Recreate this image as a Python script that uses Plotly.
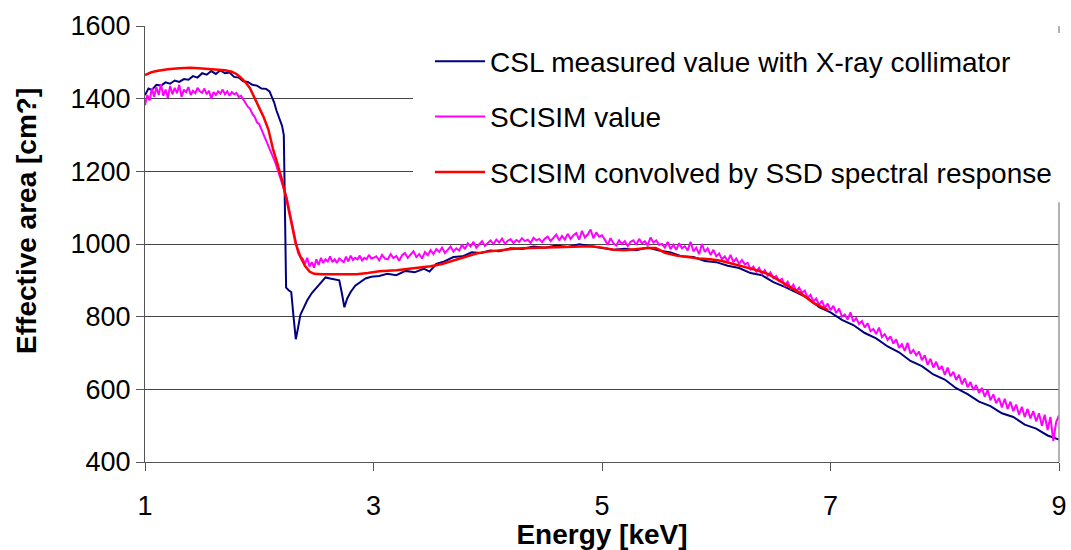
import numpy as np
import plotly.graph_objects as go

# ---------------- data ----------------
csl_energy = [1.00, 1.03, 1.06, 1.10, 1.14, 1.18, 1.22, 1.26, 1.30, 1.34, 1.38, 1.42, 1.46, 1.50,
              1.54, 1.58, 1.62, 1.66, 1.70, 1.74, 1.78, 1.82, 1.86, 1.90, 1.94, 1.98, 2.02, 2.06,
              2.09, 2.11, 2.13, 2.15, 2.18, 2.20, 2.215, 2.225, 2.235, 2.26, 2.28, 2.30, 2.32, 2.34,
              2.36, 2.39, 2.42, 2.46, 2.50, 2.54, 2.58, 2.62, 2.66, 2.70, 2.72, 2.745, 2.77, 2.80,
              2.84, 2.88, 2.93, 2.98, 3.05, 3.12, 3.20, 3.28, 3.36, 3.44, 3.49, 3.55, 3.62, 3.70,
              3.78, 3.86, 3.94, 4.02, 4.10, 4.20, 4.30, 4.40, 4.50, 4.60, 4.70, 4.80, 4.90, 5.00,
              5.10, 5.20, 5.30, 5.40, 5.50, 5.60, 5.70, 5.80, 5.90, 6.00, 6.10, 6.20, 6.30, 6.40,
              6.50, 6.60, 6.70, 6.80, 6.90, 7.00, 7.10, 7.20, 7.30, 7.40, 7.50, 7.60, 7.70, 7.80,
              7.90, 8.00, 8.10, 8.20, 8.30, 8.40, 8.50, 8.60, 8.70, 8.80, 8.90, 9.00]
csl_area = [1410, 1428, 1424, 1438, 1436, 1445, 1441, 1450, 1446, 1454, 1452, 1462, 1458, 1470,
            1466, 1476, 1468, 1478, 1470, 1472, 1460, 1458, 1448, 1446, 1438, 1436, 1428, 1427,
            1420, 1405, 1390, 1368, 1342, 1325, 1300, 1100, 880, 872, 868, 800, 738, 770,
            805, 825, 845, 865, 880, 895, 908, 905, 902, 900, 870, 826, 850, 868,
            885, 893, 905, 910, 912, 918, 914, 926, 922, 932, 924, 945, 952, 964,
            966, 977, 975, 982, 980, 988, 986, 993, 990, 996, 992, 999, 994, 991,
            984, 987, 983, 990, 982, 977, 966, 964, 953, 950, 940, 934, 920, 914,
            895, 882, 866, 852, 826, 812, 791, 777, 755, 740, 718, 702, 678, 664,
            641, 627, 603, 587, 566, 554, 534, 524, 503, 492, 473, 462]

# SCISIM value, 1.00-3.00 keV in 0.02 keV bins
sim_area_low = [1382, 1410, 1395, 1428, 1405, 1432, 1410, 1440, 1408, 1425,
                1402, 1435, 1412, 1430, 1415, 1438, 1405, 1425, 1418, 1432,
                1410, 1422, 1415, 1430, 1420, 1416, 1428, 1412, 1422, 1400,
                1418, 1410, 1420, 1414, 1425, 1412, 1420, 1408, 1418, 1412,
                1416, 1405, 1408, 1396, 1388, 1378, 1372, 1358, 1350, 1335,
                1330, 1315, 1300, 1288, 1270, 1258, 1240, 1225, 1205, 1186,
                1165, 1150, 1128, 1098, 1066, 1035, 1002, 975, 965, 960,
                945, 962, 938, 950, 935, 958, 942, 962, 948, 958,
                952, 966, 950, 958, 948, 960, 955, 950, 965, 952,
                968, 956, 962, 958, 968, 955, 962, 958, 970, 960,
                962]
# SCISIM value, 3.025-9.00 keV in 0.025 keV bins
sim_area_high = [966, 955, 970, 960, 958, 972, 961, 967, 954, 969,
                 975, 962, 970, 980, 964, 972, 960, 978, 969, 983,
                 972, 986, 978, 990, 975, 984, 993, 979, 988, 982,
                 998, 986, 1002, 993, 1006, 990, 999, 1008, 995, 1003,
                 1010, 1000, 1012, 1004, 1015, 1001, 1009, 1013, 1003, 1011,
                 1006, 1016, 1008, 1012, 1003, 1017, 1010, 1014, 1005, 1015,
                 1020, 1008, 1018, 1026, 1010, 1022, 1012, 1028, 1014, 1024,
                 1030, 1012, 1036, 1018, 1026, 1040, 1016, 1032, 1020, 1024,
                 1012, 998, 1016, 1002, 996, 1010, 1000, 1008, 994, 1006,
                 1010, 998, 1014, 1002, 1008, 996, 1018, 1004, 1010, 998,
                 1000, 990, 1006, 986, 998, 984, 1002, 988, 994, 982,
                 1006, 980, 990, 972, 1000, 978, 988, 970, 984, 966,
                 974, 958, 966, 952, 970, 950, 960, 946, 956, 944,
                 948, 930, 938, 924, 934, 918, 928, 912, 922, 906,
                 912, 898, 904, 886, 896, 878, 888, 870, 880, 866,
                 872, 852, 860, 842, 850, 832, 844, 824, 836, 818,
                 830, 810, 822, 800, 806, 792, 812, 786, 796, 780,
                 788, 770, 782, 760, 766, 752, 770, 744, 752, 736,
                 746, 726, 738, 714, 724, 706, 728, 698, 708, 694,
                 704, 680, 694, 668, 684, 660, 676, 654, 664, 640,
                 660, 636, 648, 626, 640, 614, 630, 606, 620, 598,
                 612, 590, 604, 580, 598, 570, 586, 562, 576, 550,
                 574, 546, 566, 540, 558, 530, 552, 524, 546, 520,
                 540, 512, 534, 500, 530, 488, 524, 458, 510, 528]
sim_energy_low = np.linspace(1.00, 3.00, len(sim_area_low))
sim_energy_high = np.linspace(3.025, 9.00, len(sim_area_high))
sim_energy = list(sim_energy_low) + list(sim_energy_high)
sim_area = sim_area_low + sim_area_high

conv_energy = [1.00, 1.05, 1.10, 1.15, 1.20, 1.30, 1.40, 1.50, 1.60, 1.70, 1.76, 1.80, 1.84, 1.88,
               1.92, 1.96, 2.00, 2.04, 2.08, 2.12, 2.16, 2.20, 2.24, 2.28, 2.32, 2.36, 2.40, 2.44,
               2.48, 2.55, 2.70, 2.85, 2.95, 3.05, 3.20, 3.35, 3.50, 3.60, 3.70, 3.80, 3.90, 4.00,
               4.10, 4.20, 4.30, 4.40, 4.50, 4.60, 4.70, 4.80, 4.90, 5.00, 5.10, 5.20, 5.30, 5.40,
               5.47, 5.55, 5.65, 5.75, 5.85, 5.95, 6.05, 6.15, 6.25, 6.35, 6.45, 6.55, 6.65, 6.75,
               6.85, 6.95, 6.98]
conv_area = [1465, 1472, 1476, 1479, 1481, 1484, 1485, 1483, 1481, 1478, 1474, 1468, 1458, 1445,
             1428, 1402, 1375, 1348, 1315, 1262, 1220, 1175, 1121, 1055, 1000, 965, 940, 924,
             918, 917, 917, 917, 920, 925, 928, 933, 939, 945, 955, 965, 974, 979,
             983, 986, 988, 989, 991, 993, 994, 995, 994, 990, 984, 983, 986, 989,
             989, 976, 968, 963, 960, 958, 953, 945, 937, 928, 918, 900, 880, 862,
             838, 822, 818]

series_names = ["CSL measured value with X-ray collimator",
                "SCISIM value",
                "SCISIM convolved by SSD spectral response"]
series_colors = ["#000080", "#FF00FF", "#FF0000"]
x_ticks = [1, 3, 5, 7, 9]
y_ticks = [400, 600, 800, 1000, 1200, 1400, 1600]

# ---------------- figure ----------------
FONT = "Liberation Sans, Arial, sans-serif"
fig = go.Figure()
for i, (xs, ys) in enumerate([(csl_energy, csl_area), (sim_energy, sim_area),
                               (conv_energy, conv_area)]):
    fig.add_trace(go.Scatter(x=xs, y=ys, mode="lines", name=series_names[i],
                             legendgroup=f"g{i}",
                             line=dict(color=series_colors[i], width=2 if i < 2 else 2.5)))

# right border of the plot area
fig.add_shape(type="line", xref="paper", yref="paper", x0=1, x1=1, y0=0, y1=1,
              line=dict(color="#9a9a9a", width=1.5), layer="above")
# white legend box (hides gridlines and border behind the legend)
fig.add_shape(type="rect", xref="paper", yref="paper", x0=0.2932, x1=1.02, y0=0.596, y1=0.984,
              line=dict(width=0), fillcolor="white", layer="above")

fig.add_annotation(text="<b>Effective area [cm?]</b>", xref="paper", yref="paper",
                   x=-0.1291, y=0.553, xanchor="center", yanchor="middle",
                   textangle=-90, showarrow=False,
                   font=dict(family=FONT, size=28, color="black"))

fig.update_layout(
    width=1071, height=550,
    margin=dict(l=145, r=12, t=26, b=88),
    paper_bgcolor="white", plot_bgcolor="white",
    font=dict(family=FONT, color="black"),
    showlegend=True,
    legend=dict(x=0.3118, y=0.976, xanchor="left", yanchor="top",
                bgcolor="rgba(0,0,0,0)", borderwidth=0, font=dict(family=FONT, size=28),
                itemwidth=50, tracegroupgap=16, traceorder="grouped"),
    xaxis=dict(range=[1, 9], tickvals=x_ticks, ticks="outside", ticklen=8,
               tickcolor="#555", showline=True, linecolor="#555", linewidth=1,
               showgrid=False, zeroline=False, tickfont=dict(size=27),
               ticklabelstandoff=12, automargin=False,
               title=dict(text="<b>Energy [keV]</b>", font=dict(size=28), standoff=4)),
    yaxis=dict(range=[400, 1600], tickvals=y_ticks, ticks="outside", ticklen=8,
               tickcolor="#555", showline=True, linecolor="#555", linewidth=1,
               showgrid=True, gridcolor="#444", gridwidth=1, zeroline=False,
               tickfont=dict(size=27), ticklabelstandoff=0, automargin=False),
)

fig.write_html("out.html", config={"displayModeBar": False},
               post_script="document.body.style.margin='0';document.body.style.overflow='hidden';")
